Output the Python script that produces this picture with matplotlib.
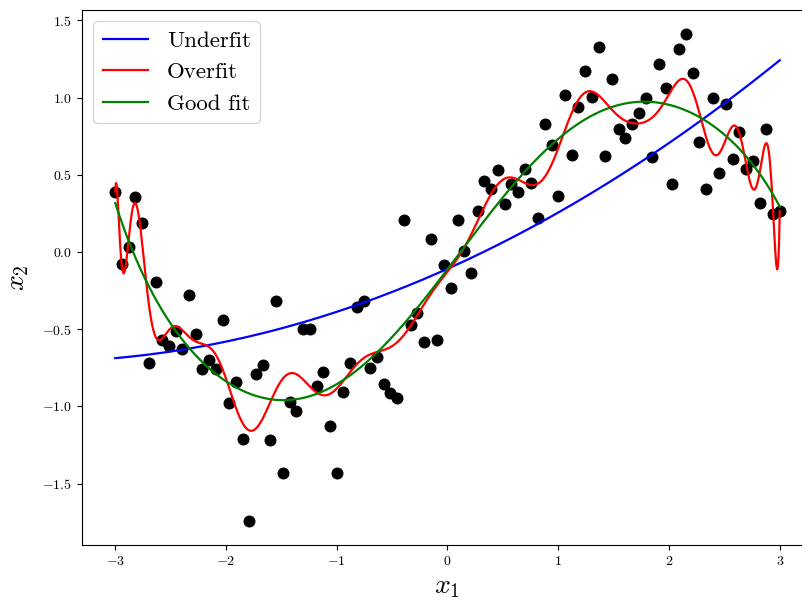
import numpy as np
import matplotlib
matplotlib.use("Agg")
import matplotlib.pyplot as plt

plt.rcParams['font.family'] = 'serif'
plt.rcParams['font.serif'] = ['cmr10']
plt.rcParams['mathtext.fontset'] = 'cm'
plt.rcParams['axes.formatter.use_mathtext'] = True

# datos
x = np.linspace(-3, 3, 100)
y = [0.39, -0.08, 0.034, 0.357, 0.19, -0.72, -0.196, -0.57, -0.61, -0.51,
     -0.63, -0.28, -0.53, -0.76, -0.70, -0.76, -0.44, -0.98, -0.845, -1.21,
     -1.74, -0.79, -0.73, -1.215, -0.315, -1.43, -0.97, -1.03, -0.50, -0.50,
     -0.866, -0.78, -1.13, -1.43, -0.905, -0.716, -0.357, -0.32, -0.752, -0.68,
     -0.853, -0.91, -0.944, 0.207, -0.47, -0.396, -0.58, 0.086, -0.57, -0.086,
     -0.235, 0.21, 0.004, -0.138, 0.265, 0.46, 0.41, 0.53, 0.31, 0.44,
     0.39, 0.54, 0.45, 0.22, 0.83, 0.69, 0.36, 1.015, 0.63, 0.94,
     1.17, 1.004, 1.325, 0.625, 1.12, 0.80, 0.74, 0.83, 0.90, 0.995,
     0.616, 1.217, 1.062, 0.44, 1.317, 1.41, 1.16, 0.713, 0.405, 1.0,
     0.515, 0.957, 0.60, 0.78, 0.54, 0.59, 0.32, 0.80, 0.245, 0.267]
y = np.array(y)

grados = {'Underfit': 2, 'Overfit': 30, 'Good fit': 7}
colores = {'Underfit': 'blue', 'Overfit': 'red', 'Good fit': 'green'}

xs = np.linspace(-3, 3, 1000)

fig = plt.figure(figsize=(8.03, 6.02), dpi=100)
ax = fig.add_axes([82/803, 57/602, 731/803, 535/602])
ax.scatter(x, y, s=58, c='k', zorder=2)
for nombre in grados:
    p = np.polynomial.Polynomial.fit(x, y, grados[nombre])
    ax.plot(xs, p(xs), color=colores[nombre], lw=1.6, label=nombre, zorder=3)

ax.set_xlim(-3.3, 3.3)
ax.set_ylim(-1.8975, 1.5675)
ax.set_xlabel(r'$x_1$', fontsize=20)
ax.set_ylabel(r'$x_2$', fontsize=20, labelpad=8)
ax.tick_params(labelsize=10)
ax.legend(loc='upper left', fontsize=16.5)
fig.savefig('out.png')
